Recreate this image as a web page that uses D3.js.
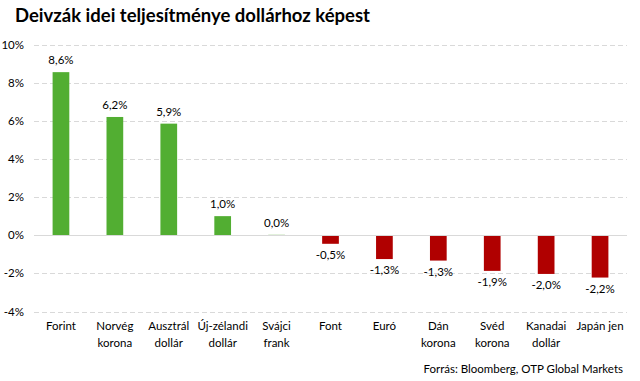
<!DOCTYPE html>
<html>
<head>
<meta charset="utf-8">
<script src="https://cdn.jsdelivr.net/npm/d3@7"></script>
<style>
  body { margin: 0; background: #fff; }
  text { font-family: Lato, "Open Sans", sans-serif; fill: #000; }
</style>
</head>
<body>
<div id="chart"></div>
<script>
const categories = [
  ['Forint'], ['Norvég', 'korona'], ['Ausztrál', 'dollár'], ['Új-zélandi', 'dollár'],
  ['Svájci', 'frank'], ['Font'], ['Euró'], ['Dán', 'korona'], ['Svéd', 'korona'],
  ['Kanadai', 'dollár'], ['Japán jen'],
];
const values = [8.55, 6.2, 5.85, 1.0, 0.02, -0.45, -1.25, -1.33, -1.87, -2.03, -2.22];
const labels = ['8,6%', '6,2%', '5,9%', '1,0%', '0,0%', '-0,5%', '-1,3%', '-1,3%', '-1,9%', '-2,0%', '-2,2%'];
const yTicks = [-4, -2, 0, 2, 4, 6, 8, 10];

const width = 640;
const height = 381;
const margin = { top: 44.5, right: 13, bottom: 69.5, left: 34 };

const svg = d3.select('#chart')
  .append('svg')
  .attr('width', width)
  .attr('height', height);

svg.append('text')
  .attr('x', 15)
  .attr('y', 22)
  .style('font-size', '18.5px')
  .style('font-weight', 'bold')
  .text('Deivzák idei teljesítménye dollárhoz képest');

const x = d3.scaleBand()
  .domain(d3.range(categories.length))
  .range([margin.left, width - margin.right])
  .paddingInner(0.69)
  .paddingOuter(0.345);

const y = d3.scaleLinear()
  .domain([-4, 10])
  .range([height - margin.bottom, margin.top]);

// grid
svg.append('g')
  .selectAll('line')
  .data(yTicks.filter((t) => t !== 0))
  .enter()
  .append('line')
  .attr('x1', margin.left)
  .attr('x2', width - margin.right)
  .attr('y1', (d) => Math.round(y(d)) + 0.5)
  .attr('y2', (d) => Math.round(y(d)) + 0.5)
  .attr('stroke', '#d9d9d9')
  .attr('stroke-dasharray', '5,3');

// y labels
svg.append('g')
  .selectAll('text')
  .data(yTicks)
  .enter()
  .append('text')
  .attr('x', 24)
  .attr('y', (d) => y(d) + 4)
  .attr('text-anchor', 'end')
  .style('font-size', '11.5px')
  .text((d) => `${d}%`);

// bars
svg.append('g')
  .selectAll('rect')
  .data(values)
  .enter()
  .append('rect')
  .attr('x', (d, i) => x(i))
  .attr('width', x.bandwidth())
  .attr('y', (d) => y(Math.max(0, d)))
  .attr('height', (d) => Math.abs(y(d) - y(0)))
  .attr('fill', (d) => (d >= 0 ? '#52ae32' : '#b00000'));

// zero line
svg.append('line')
  .attr('x1', margin.left)
  .attr('x2', width - margin.right)
  .attr('y1', Math.round(y(0)) + 0.5)
  .attr('y2', Math.round(y(0)) + 0.5)
  .attr('stroke', '#d9d9d9');

// value labels
svg.append('g')
  .selectAll('text')
  .data(values)
  .enter()
  .append('text')
  .attr('x', (d, i) => x(i) + x.bandwidth() / 2)
  .attr('y', (d) => (d >= 0 ? y(d) - 8 : y(d) + 15))
  .attr('text-anchor', 'middle')
  .style('font-size', '11.5px')
  .text((d, i) => labels[i]);

// category labels
const cat = svg.append('g')
  .selectAll('text')
  .data(categories)
  .enter()
  .append('text')
  .attr('x', (d, i) => x(i) + x.bandwidth() / 2)
  .attr('y', 330)
  .attr('text-anchor', 'middle')
  .style('font-size', '11.5px');

cat.selectAll('tspan')
  .data((d) => d)
  .enter()
  .append('tspan')
  .attr('x', function tx() { return d3.select(this.parentNode).attr('x'); })
  .attr('dy', (d, i) => (i === 0 ? 0 : 17))
  .text((d) => d);

svg.append('text')
  .attr('x', 623)
  .attr('y', 373)
  .attr('text-anchor', 'end')
  .style('font-size', '11.5px')
  .text('Forrás: Bloomberg, OTP Global Markets');
</script>
</body>
</html>
